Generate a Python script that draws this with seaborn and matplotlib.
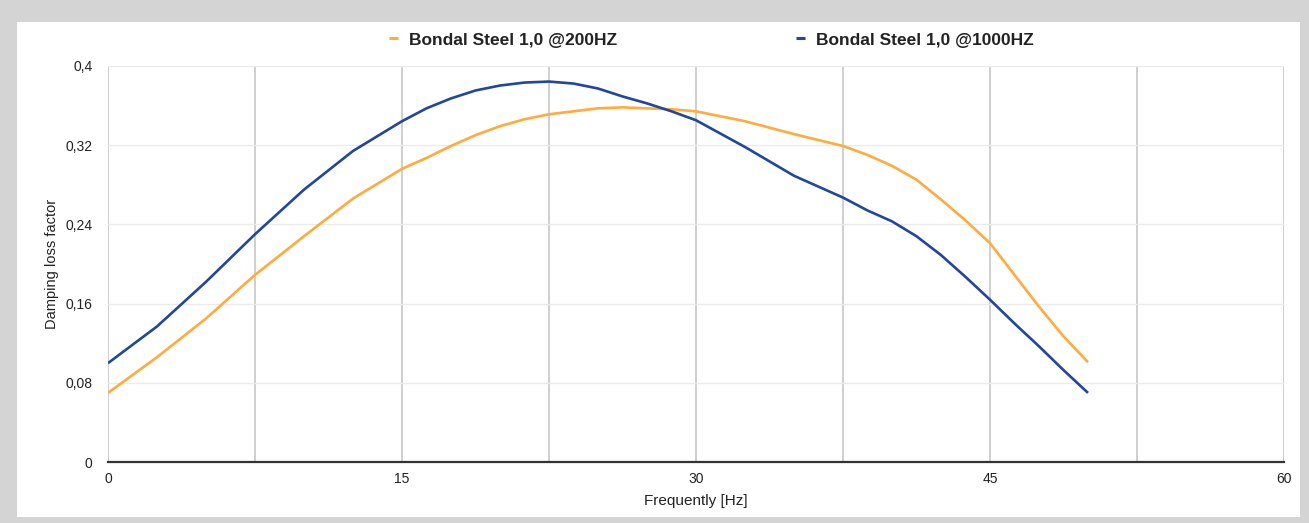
import matplotlib
matplotlib.use("Agg")
import matplotlib.pyplot as plt
import seaborn as sns
import pandas as pd
from matplotlib.ticker import MultipleLocator, FixedLocator

# ---- data ----
freq = [0, 2.5, 5, 7.5, 10, 12.5, 15, 16.25, 17.5, 18.75, 20, 21.25, 22.5,
        23.75, 25, 26.25, 27.5, 28.75, 30, 32.5, 35, 37.5, 38.75, 40, 41.25,
        42.5, 43.75, 45, 46.25, 47.5, 48.75, 50]
steel_200 = [0.070, 0.106, 0.145, 0.189, 0.228, 0.266, 0.296, 0.307, 0.319,
             0.330, 0.339, 0.346, 0.351, 0.354, 0.357, 0.358, 0.357, 0.356,
             0.354, 0.344, 0.331, 0.319, 0.310, 0.299, 0.285, 0.265, 0.244,
             0.221, 0.189, 0.157, 0.127, 0.101]
steel_1000 = [0.100, 0.137, 0.182, 0.230, 0.275, 0.314, 0.344, 0.357, 0.367,
              0.375, 0.380, 0.383, 0.384, 0.382, 0.377, 0.369, 0.362, 0.354,
              0.345, 0.318, 0.289, 0.267, 0.254, 0.243, 0.228, 0.209, 0.187,
              0.164, 0.140, 0.117, 0.093, 0.070]
series_names = ["Bondal Steel 1,0 @200HZ", "Bondal Steel 1,0 @1000HZ"]
x_ticks = [0, 15, 30, 45, 60]
y_ticks = [0, 0.08, 0.16, 0.24, 0.32, 0.4]
y_tick_labels = ["0", "0,08", "0,16", "0,24", "0,32", "0,4"]
x_title = "Frequently [Hz]"
y_title = "Damping loss factor"

df = pd.DataFrame({
    "freq": freq * 2,
    "value": steel_200 + steel_1000,
    "series": [series_names[0]] * len(freq) + [series_names[1]] * len(freq),
})

sns.set_theme(style="white")
plt.rcParams["font.family"] = ["Liberation Sans", "DejaVu Sans"]

W, H = 1309, 523
fig = plt.figure(figsize=(W / 100, H / 100), dpi=100)
fig.patch.set_facecolor("#d4d4d4")

# white card behind the chart
bg = fig.add_axes([17 / W, 6 / H, (1300 - 17) / W, (517 - 22) / H], zorder=-10)
bg.set_facecolor("white")
bg.set_xticks([])
bg.set_yticks([])
for s in bg.spines.values():
    s.set_visible(False)

ax = fig.add_axes([108 / W, (H - 462.3) / H, (1284 - 108) / W, (462.3 - 65.7) / H])
ax.set_facecolor("none")

palette = {series_names[0]: "#ffab3d", series_names[1]: "#21469b"}
sns.lineplot(data=df, x="freq", y="value", hue="series", palette=palette,
             linewidth=1.9, ax=ax, legend=True)
for ln in ax.get_lines():
    ln.set_solid_joinstyle("round")
    ln.set_solid_capstyle("butt")

ax.set_xlim(0, 60)
ax.set_ylim(0, 0.4)
ax.xaxis.set_major_locator(FixedLocator(x_ticks))
ax.xaxis.set_minor_locator(MultipleLocator(7.5))
ax.yaxis.set_major_locator(FixedLocator(y_ticks))
ax.set_yticklabels(y_tick_labels)
ax.set_xticklabels([str(t) for t in x_ticks])

ax.grid(True, which="both", axis="x", color="#cccccc", linewidth=1.3, zorder=0)
ax.grid(True, which="major", axis="y", color="#ebebeb", linewidth=1.0, zorder=0)
ax.set_axisbelow(True)

for s in ["top", "right", "left"]:
    ax.spines[s].set_visible(False)
ax.spines["bottom"].set_color("#333333")
ax.spines["bottom"].set_linewidth(1.6)
ax.spines["bottom"].set_zorder(5)

ax.tick_params(axis="both", which="both", length=0, labelsize=10,
               labelcolor="#222222")
ax.tick_params(axis="y", pad=11)
ax.tick_params(axis="x", pad=7)

ax.set_xlabel(x_title, fontsize=11, color="#222222", labelpad=6)
ax.set_ylabel(y_title, fontsize=10.5, color="#222222", labelpad=5)

leg = ax.legend(loc="center", bbox_to_anchor=(711 / W, 1 - 40 / H),
                bbox_transform=fig.transFigure, ncol=2, frameon=False,
                handlelength=0.55, handletextpad=0.6, columnspacing=10.3,
                prop={"weight": "bold", "size": 12.5})
for line in leg.get_lines():
    line.set_linewidth(2.2)
for t in leg.get_texts():
    t.set_color("#222222")

fig.savefig("out.png", dpi=100, facecolor=fig.get_facecolor())
